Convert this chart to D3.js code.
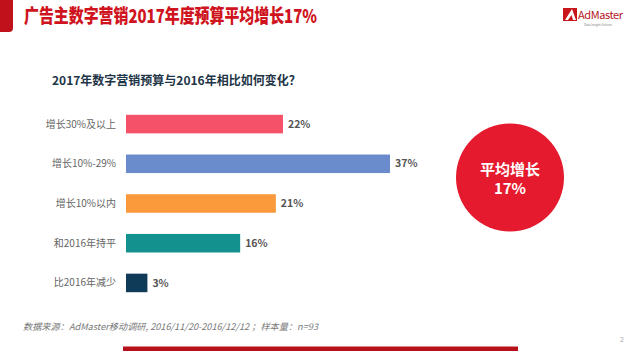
<!DOCTYPE html>
<html>
<head>
<meta charset="utf-8">
<script src="https://cdn.jsdelivr.net/npm/d3@7"></script>
<style>
  html, body { margin: 0; padding: 0; background: #fff; }
  svg { display: block; }
  text { font-family: "Noto Sans CJK SC", "Noto Sans", sans-serif; }
</style>
</head>
<body>
<svg id="chart" width="627" height="351"></svg>
<script>
const categories = ["增长30%及以上", "增长10%-29%", "增长10%以内", "和2016年持平", "比2016年减少"];
const values = [22, 37, 21, 16, 3];
const colors = ["#f5526a", "#6a8ccd", "#fb9a3a", "#12918f", "#0f3a58"];
const titleText = "广告主数字营销2017年度预算平均增长17%";
const subtitleText = "2017年数字营销预算与2016年相比如何变化？";
const badgeLines = ["平均增长", "17%"];
const sourceText = "数据来源：AdMaster移动调研, 2016/11/20-2016/12/12 ；样本量：n=93";

const svg = d3.select("#chart");

// header
svg.append("path")
  .attr("d", "M0,0 H13 V28 Q13,32 9,32 H0 Z")
  .attr("fill", "#c1121c");
svg.append("text")
  .attr("x", 24).attr("y", 23)
  .attr("font-size", 19).attr("font-weight", 900)
  .attr("fill", "#cf1420")
  .attr("textLength", 293).attr("lengthAdjust", "spacingAndGlyphs")
  .text(titleText);

// logo
const logo = svg.append("g");
logo.append("rect").attr("x", 563).attr("y", 8).attr("width", 14).attr("height", 13).attr("fill", "#c8161d");
logo.append("path").attr("d", "M565,20 L572,9 L576,20 L573,20 L571.5,15 L568,20 Z").attr("fill", "#fff");
logo.append("text").attr("x", 578).attr("y", 18.5)
  .attr("font-family", "Arial, 'Liberation Sans', sans-serif")
  .attr("font-size", 11).attr("fill", "#b5141c")
  .attr("letter-spacing", -0.4)
  .text("AdMaster");
logo.append("text").attr("x", 584).attr("y", 26)
  .attr("font-family", "Arial, 'Liberation Sans', sans-serif")
  .attr("font-size", 3).attr("fill", "#888")
  .text("Data Insight Actions");

// subtitle
svg.append("text")
  .attr("x", 52).attr("y", 85)
  .attr("font-size", 12).attr("font-weight", 700)
  .attr("fill", "#1e3547")
  .text(subtitleText);

// scales
const x = d3.scaleLinear().domain([0, 37]).range([126, 390]);
const y = d3.scaleBand().domain(categories).range([114.8, 292.2]).paddingInner(0.533).paddingOuter(0);

svg.append("g").selectAll("rect").data(categories).join("rect")
  .attr("x", x(0))
  .attr("y", d => y(d))
  .attr("width", (d, i) => x(values[i]) - x(0))
  .attr("height", y.bandwidth())
  .attr("fill", (d, i) => colors[i]);

svg.append("g").selectAll("text").data(categories).join("text")
  .attr("x", 116)
  .attr("y", d => y(d) + y.bandwidth() / 2)
  .attr("dy", "0.35em")
  .attr("text-anchor", "end")
  .attr("font-size", 10)
  .attr("fill", "#666")
  .text(d => d);

svg.append("g").selectAll("text").data(categories).join("text")
  .attr("x", (d, i) => x(values[i]) + 5)
  .attr("y", d => y(d) + y.bandwidth() / 2)
  .attr("dy", "0.35em")
  .attr("font-size", 10.5)
  .attr("font-weight", 700)
  .attr("fill", "#555")
  .text((d, i) => values[i] + "%");

// badge
svg.append("circle").attr("cx", 510).attr("cy", 177.5).attr("r", 54).attr("fill", "#e51a2e");
svg.append("text").attr("x", 510).attr("y", 175)
  .attr("text-anchor", "middle").attr("font-size", 15).attr("font-weight", 700).attr("fill", "#fff")
  .text(badgeLines[0]);
svg.append("text").attr("x", 510).attr("y", 194)
  .attr("text-anchor", "middle").attr("font-size", 15).attr("font-weight", 700).attr("fill", "#fff")
  .text(badgeLines[1]);

// footer
svg.append("text")
  .attr("x", 23).attr("y", 330)
  .attr("font-size", 9).attr("font-style", "italic").attr("fill", "#777")
  .attr("textLength", 295).attr("lengthAdjust", "spacingAndGlyphs")
  .text(sourceText);
svg.append("text").attr("x", 620).attr("y", 342)
  .attr("font-size", 7).attr("fill", "#aaa").text("2");
svg.append("rect").attr("x", 123).attr("y", 346.5).attr("width", 395).attr("height", 4.5).attr("fill", "#b8101a");
</script>
</body>
</html>
